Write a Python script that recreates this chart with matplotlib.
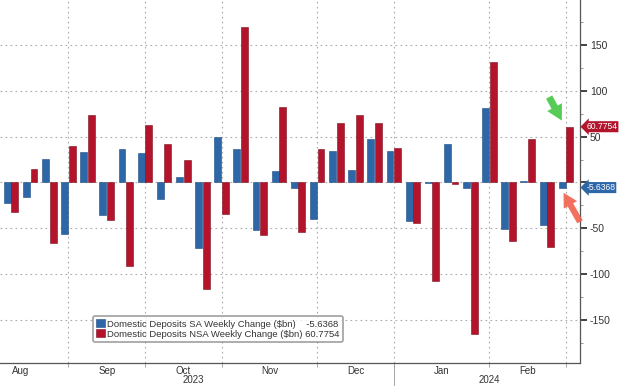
import numpy as np
import matplotlib.pyplot as plt
from matplotlib.ticker import MultipleLocator, FixedLocator, FuncFormatter
import matplotlib.transforms as mtrans

plt.rcParams['font.family'] = ['Liberation Sans', 'DejaVu Sans']

# weekly changes, $bn (Aug 2023 - Feb 2024)
sa = [-22, -16, 26, -56, 33, -36, 36, 32, -18, 6,
      -71, 50, 36, -52, 13, -6, -40, 34, 14, 47,
      34, -42, -1, 42, -6, 81, -51, 2, -46, -5.6368]
nsa = [-32, 15, -66, 40, 74, -41, -91, 63, 42, 24,
       -116, -34, 170, -57, 82, -54, 36, 65, 73, 65,
       38, -44, -107, -2, -165, 131, -64, 47, -70, 60.7754]

months = ['Aug', 'Sep', 'Oct', 'Nov', 'Dec', 'Jan', 'Feb']
month_edges = [-2, 3, 7, 11, 16, 20, 25, 29]   # week index of month boundaries
years = ['2023', '2024']
year_pos = [9.5, 25]

sa_label = 'Domestic Deposits SA Weekly Change ($bn)'
nsa_label = 'Domestic Deposits NSA Weekly Change ($bn)'

blue = '#2e67a8'
red = '#b3142c'

fig = plt.figure(figsize=(6.2, 3.86), dpi=100)
ax = fig.add_axes([0, 23 / 386, 580 / 620, 363 / 386])

x = np.arange(len(sa))
w = 0.36
ax.bar(x - 0.2, sa, width=w, color=blue, edgecolor='#1d4a80', linewidth=0.4,
       label=f'{sa_label}    {sa[-1]:.4f}', zorder=3)
ax.bar(x + 0.2, nsa, width=w, color=red, edgecolor='#7e0d1e', linewidth=0.4,
       label=f'{nsa_label} {nsa[-1]:.4f}', zorder=3)

ax.set_xlim(-0.575, 29.73)
ax.set_ylim(-197, 199)

# axes / spines
for s in ['left', 'top']:
    ax.spines[s].set_visible(False)
ax.spines['right'].set_color('#555555')
ax.spines['bottom'].set_color('#555555')
ax.spines['right'].set_linewidth(0.9)
ax.spines['bottom'].set_linewidth(0.9)

ax.yaxis.tick_right()
ax.yaxis.set_major_locator(MultipleLocator(50))
ax.yaxis.set_minor_locator(MultipleLocator(25))
ax.yaxis.set_major_formatter(FuncFormatter(lambda v, p: '' if v == 0 else f'{v:.0f}'))
ax.tick_params(axis='y', which='major', direction='out', length=5, width=1.2,
               color='#222222', labelsize=7.5, pad=2, labelcolor='#333333')
ax.tick_params(axis='y', which='minor', direction='out', length=2, width=0.6,
               color='#888888')

# month boundaries as major x ticks (gridlines), month names as minor ticks
edges = month_edges[1:]
centers = [(a + b) / 2 for a, b in zip(month_edges[:-1], month_edges[1:])]
ax.xaxis.set_major_locator(FixedLocator(edges))
ax.xaxis.set_major_formatter(FuncFormatter(lambda v, p: ''))
ax.xaxis.set_minor_locator(FixedLocator(centers))
ax.set_xticklabels(months, minor=True)
ax.tick_params(axis='x', which='major', direction='out', length=3, width=0.6,
               color='#999999')
ax.tick_params(axis='x', which='minor', length=0, labelsize=7, pad=2,
               labelcolor='#333333')

ax.grid(True, which='major', linestyle=(0, (1.5, 3)), color='#aaaaaa',
        linewidth=0.8, zorder=0)
ax.set_axisbelow(True)

# year labels and year separator
trans = mtrans.blended_transform_factory(ax.transData, ax.transAxes)
for yl, xp in zip(years, year_pos):
    ax.text(xp, -0.047, yl, transform=trans, ha='center', va='center',
            fontsize=7, color='#333333', clip_on=False)
ax.plot([20, 20], [0, -0.07], transform=trans, color='#999999', lw=0.6,
        clip_on=False)

# legend
leg = ax.legend(loc='lower left', bbox_to_anchor=(0.16, 0.058), fontsize=6.8,
                frameon=True, fancybox=True, handlelength=0.9, handleheight=0.9,
                handletextpad=0.3, borderpad=0.35, labelspacing=0.1,
                borderaxespad=0)
leg.get_frame().set_edgecolor('#888888')
leg.get_frame().set_linewidth(1.2)
for t in leg.get_texts():
    t.set_color('#333333')

# value tags on the right axis
for val, col in [(nsa[-1], red), (sa[-1], blue)]:
    ax.annotate(f'{val:.4f}', xy=(1.0, val), xycoords=('axes fraction', 'data'),
                xytext=(4.5, 0), textcoords='offset points', ha='left', va='center',
                fontsize=6.2, color='white', annotation_clip=False,
                bbox=dict(boxstyle='larrow,pad=0.12', fc=col, ec='none'))

# highlight arrows
last = len(sa) - 1
ax.annotate('', xy=(last - 0.15, nsa[-1] + 4), xytext=(last - 0.95, nsa[-1] + 35),
            arrowprops=dict(arrowstyle='simple,head_length=1.1,head_width=1.2,tail_width=0.5',
                            fc='#44c644', ec='none', alpha=0.9),
            annotation_clip=False)
ax.annotate('', xy=(last - 0.2, sa[-1] - 3), xytext=(last + 0.8, sa[-1] - 40),
            arrowprops=dict(arrowstyle='simple,head_length=1.0,head_width=1.1,tail_width=0.45',
                            fc='#f0604c', ec='none', alpha=0.9),
            annotation_clip=False)

plt.savefig('out.png', dpi=100)
